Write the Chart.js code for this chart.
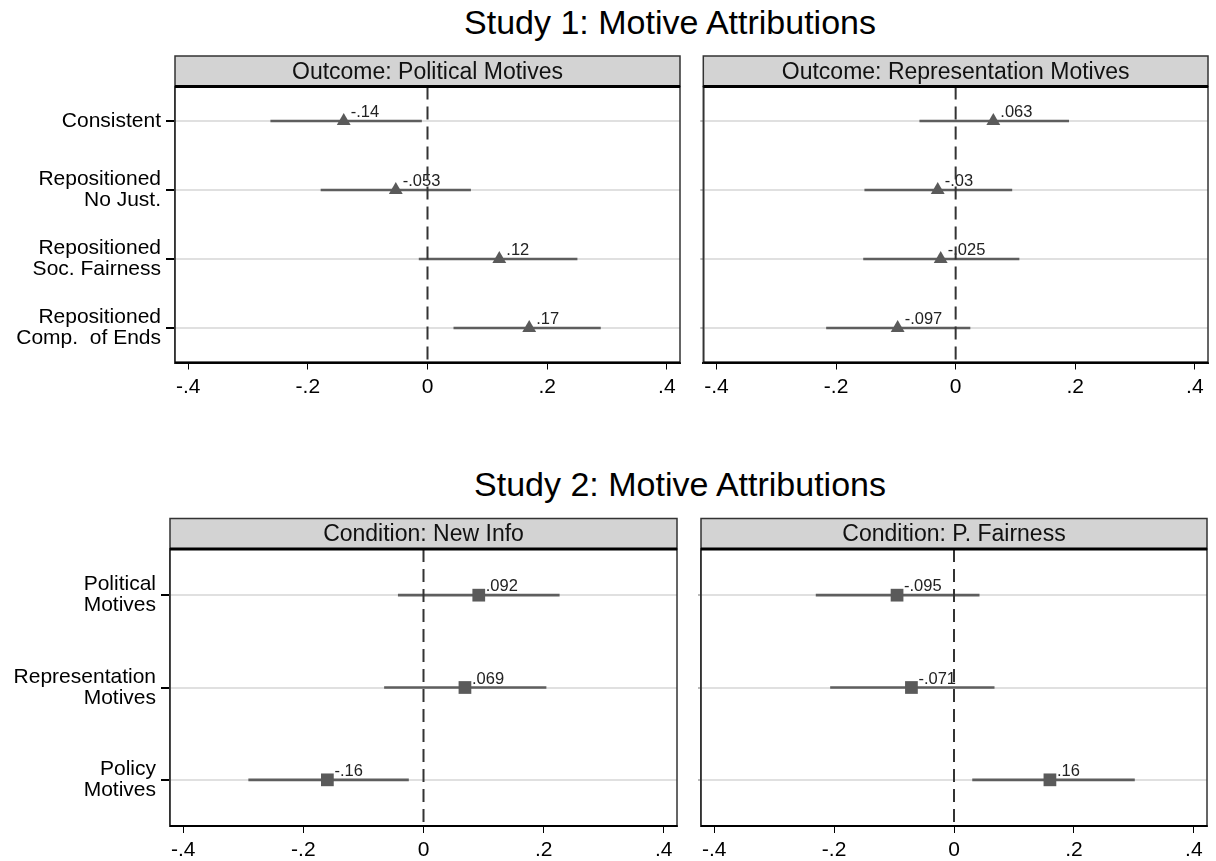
<!DOCTYPE html>
<html>
<head>
<meta charset="utf-8">
<script src="https://cdn.jsdelivr.net/npm/chart.js@4.4.1/dist/chart.umd.min.js"></script>
<style>
  body { margin: 0; background: #fff; width: 1216px; height: 861px; overflow: hidden; position: relative;
         font-family: "Liberation Sans", Arial, sans-serif; }
  canvas { position: absolute; }
  .title { position: absolute; font-size: 34px; line-height: 34px; white-space: nowrap; color: #000;
           transform: translateX(-50%); }
</style>
</head>
<body>
<div class="title" style="left:670px; top:5px">Study 1: Motive Attributions</div>
<div class="title" style="left:680px; top:467px">Study 2: Motive Attributions</div>
<canvas id="c1" width="695" height="360" style="left:0; top:40px"></canvas>
<canvas id="c2" width="521" height="360" style="left:695px; top:40px"></canvas>
<canvas id="c3" width="690" height="361" style="left:0; top:500px"></canvas>
<canvas id="c4" width="526" height="361" style="left:690px; top:500px"></canvas>
<script>
// --- data ---
const study1Rows = [["Consistent"], ["Repositioned", "No Just."], ["Repositioned", "Soc. Fairness"], ["Repositioned", "Comp.  of Ends"]];
const study2Rows = [["Political", "Motives"], ["Representation", "Motives"], ["Policy", "Motives"]];

const polEst = [-0.14, -0.053, 0.12, 0.17];
const polLo = [-0.262, -0.178, -0.014, 0.044];
const polHi = [-0.010, 0.072, 0.250, 0.289];

const repEst = [0.063, -0.03, -0.025, -0.097];
const repLo = [-0.060, -0.152, -0.154, -0.216];
const repHi = [0.189, 0.094, 0.106, 0.024];

const newInfoEst = [0.092, 0.069, -0.16];
const newInfoLo = [-0.042, -0.065, -0.291];
const newInfoHi = [0.226, 0.204, -0.025];

const fairEst = [-0.095, -0.071, 0.16];
const fairLo = [-0.230, -0.206, 0.031];
const fairHi = [0.042, 0.067, 0.301];

const xTicks = [-0.4, -0.2, 0, 0.2, 0.4];
const xTickLabels = ["-.4", "-.2", "0", ".2", ".4"];

const FONT = '"Liberation Sans", Arial, sans-serif';

// stata style number: drop the leading zero
function fmt(v) {
    return String(v).replace(/^(-?)0\./, "$1.");
}

// header strip, box, zero line and value labels
const panelDecor = {
    id: "panelDecor",
    afterDatasetsDraw(chart, args, opts) {
        const ctx = chart.ctx;
        const a = chart.chartArea;
        ctx.save();

        // value labels above the markers
        const meta = chart.getDatasetMeta(0);
        const vals = chart.data.datasets[0].data;
        ctx.font = "16.5px " + FONT;
        ctx.fillStyle = "#222";
        ctx.textAlign = "left";
        ctx.textBaseline = "alphabetic";
        meta.data.forEach((pt, i) => {
            ctx.fillText(fmt(vals[i]), pt.x + 7, pt.y - 4);
        });

        // dashed zero line
        const x0 = chart.scales.x.getPixelForValue(0);
        ctx.strokeStyle = "#333";
        ctx.lineWidth = 2;
        ctx.setLineDash([13, 7]);
        ctx.beginPath();
        ctx.moveTo(x0, a.top);
        ctx.lineTo(x0, a.bottom);
        ctx.stroke();
        ctx.setLineDash([]);

        // plot box
        ctx.strokeStyle = "#333";
        ctx.lineWidth = 1.5;
        ctx.strokeRect(a.left, a.top, a.right - a.left, a.bottom - a.top);
        ctx.strokeStyle = "#000";
        ctx.lineWidth = 2;
        ctx.beginPath();
        ctx.moveTo(a.left, a.bottom);
        ctx.lineTo(a.right, a.bottom);
        ctx.stroke();

        // header strip
        const h = 30.5;
        ctx.fillStyle = "#d3d3d3";
        ctx.fillRect(a.left, a.top - h, a.right - a.left, h);
        ctx.strokeStyle = "#333";
        ctx.lineWidth = 1.5;
        ctx.strokeRect(a.left, a.top - h, a.right - a.left, h);
        ctx.strokeStyle = "#000";
        ctx.lineWidth = 3;
        ctx.beginPath();
        ctx.moveTo(a.left, a.top);
        ctx.lineTo(a.right, a.top);
        ctx.stroke();

        ctx.font = "23px " + FONT;
        ctx.fillStyle = "#111";
        ctx.textAlign = "center";
        ctx.textBaseline = "middle";
        ctx.fillText(opts.title, (a.left + a.right) / 2, a.top - h / 2 + 1);
        ctx.restore();
    }
};

function makePanel(id, cfg) {
    const ctx = document.getElementById(id).getContext("2d");
    return new Chart(ctx, {
        type: "bar",
        data: {
            labels: cfg.rows,
            datasets: [
                {
                    type: "line",
                    indexAxis: "y",
                    data: cfg.est,
                    showLine: false,
                    pointStyle: cfg.marker,
                    pointRadius: cfg.marker === "triangle" ? 8 : 9,
                    pointBackgroundColor: "#5a5a5a",
                    pointBorderWidth: 0,
                    order: 0,
                },
                {
                    type: "bar",
                    indexAxis: "y",
                    data: cfg.lo.map((l, i) => [l, cfg.hi[i]]),
                    backgroundColor: "#5e5e5e",
                    barThickness: 2,
                    borderWidth: 0,
                    order: 1,
                },
            ],
        },
        options: {
            indexAxis: "y",
            responsive: false,
            animation: false,
            layout: { padding: { top: cfg.top, right: cfg.right, left: 0, bottom: 0 } },
            plugins: {
                legend: { display: false },
                tooltip: { enabled: false },
                panelDecor: { title: cfg.title },
            },
            scales: {
                x: {
                    type: "linear",
                    min: -0.422,
                    max: 0.422,
                    afterBuildTicks: (scale) => { scale.ticks = xTicks.map(v => ({ value: v })); },
                    afterFit: (scale) => { scale.height = cfg.xHeight; },
                    grid: { drawOnChartArea: false, drawTicks: true, tickLength: 7, tickColor: "#000" },
                    border: { display: true, color: "#000", width: 2 },
                    ticks: {
                        autoSkip: false,
                        maxRotation: 0,
                        padding: 5,
                        color: "#000",
                        font: { family: FONT, size: 21 },
                        callback: (v, i) => xTickLabels[i],
                    },
                },
                y: {
                    type: "category",
                    offset: true,
                    afterFit: (scale) => { scale.width = cfg.yWidth; },
                    grid: { offset: false, color: "#e0e0e0", lineWidth: 2, drawTicks: true,
                            tickLength: cfg.showLabels ? 9 : 3, tickColor: cfg.showLabels ? "#000" : "#bbb" },
                    border: { display: true, color: "#333", width: 1.5 },
                    ticks: {
                        display: cfg.showLabels,
                        padding: 5,
                        color: "#000",
                        font: { family: FONT, size: 21, lineHeight: 1.0 },
                    },
                },
            },
        },
        plugins: [panelDecor],
    });
}

makePanel("c1", { rows: study1Rows, est: polEst, lo: polLo, hi: polHi, marker: "triangle",
    title: "Outcome: Political Motives", top: 46.5, right: 15, yWidth: 175, xHeight: 37.5, showLabels: true });
makePanel("c2", { rows: study1Rows, est: repEst, lo: repLo, hi: repHi, marker: "triangle",
    title: "Outcome: Representation Motives", top: 46.5, right: 8, yWidth: 8.3, xHeight: 37.5, showLabels: false });
makePanel("c3", { rows: study2Rows, est: newInfoEst, lo: newInfoLo, hi: newInfoHi, marker: "rect",
    title: "Condition: New Info", top: 49, right: 13, yWidth: 170, xHeight: 35, showLabels: true });
makePanel("c4", { rows: study2Rows, est: fairEst, lo: fairLo, hi: fairHi, marker: "rect",
    title: "Condition: P. Fairness", top: 49, right: 8, yWidth: 11, xHeight: 35, showLabels: false });
</script>
</body>
</html>
